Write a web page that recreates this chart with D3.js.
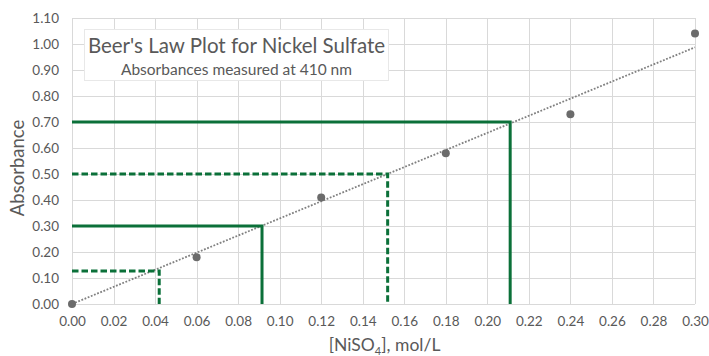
<!DOCTYPE html>
<html>
<head>
<meta charset="utf-8">
<script src="https://cdn.jsdelivr.net/npm/d3@7"></script>
<style>
  html, body { margin: 0; padding: 0; background: #fff; }
  svg { display: block; }
  text { font-family: Lato, "Liberation Sans", sans-serif; fill: #595959; }
</style>
</head>
<body>
<svg id="chart" width="709" height="356"></svg>
<script>
// ---- data ----
const concentrations = [0.00, 0.06, 0.12, 0.18, 0.24, 0.30];
const absorbances    = [0.00, 0.18, 0.41, 0.58, 0.73, 1.04];
const readAbs  = [0.127, 0.30, 0.50, 0.70];
const readConc = [0.042, 0.0915, 0.152, 0.211];
const readDashed = [true, false, true, false];
const xTicks = [0.00,0.02,0.04,0.06,0.08,0.10,0.12,0.14,0.16,0.18,0.20,0.22,0.24,0.26,0.28,0.30];
const yTicks = [0.00,0.10,0.20,0.30,0.40,0.50,0.60,0.70,0.80,0.90,1.00,1.10];
const titleText = "Beer's Law Plot for Nickel Sulfate";
const subtitleText = "Absorbances measured at 410 nm";
const yLabel = "Absorbance";

const svg = d3.select("#chart");
const x = d3.scaleLinear().domain([0, 0.30]).range([72, 695]);
const y = d3.scaleLinear().domain([0, 1.10]).range([304, 18]);

const green = "#0b7039";
const font = "Lato, 'Liberation Sans', sans-serif";

// gridlines
svg.append("g").selectAll("line").data(yTicks).join("line")
  .attr("x1", x(0)).attr("x2", x(0.30))
  .attr("y1", d => Math.round(y(d)) + 0.5).attr("y2", d => Math.round(y(d)) + 0.5)
  .attr("stroke", "#d9d9d9").attr("stroke-width", 1);
svg.append("g").selectAll("line").data(xTicks).join("line")
  .attr("x1", d => Math.round(x(d)) + 0.5).attr("x2", d => Math.round(x(d)) + 0.5)
  .attr("y1", y(1.10)).attr("y2", y(0))
  .attr("stroke", "#d9d9d9").attr("stroke-width", 1);

// axes tick labels via d3 axes
const yAxis = d3.axisLeft(y).tickValues(yTicks).tickFormat(d3.format(".2f")).tickSize(0).tickPadding(13);
const gy = svg.append("g").attr("transform", `translate(${x(0)},0)`).call(yAxis);
gy.select(".domain").remove();
gy.selectAll("text").style("font-size", "13.5px").style("fill", "#595959").style("font-family", font);

const xAxis = d3.axisBottom(x).tickValues(xTicks).tickFormat(d3.format(".2f")).tickSize(0).tickPadding(12);
const gx = svg.append("g").attr("transform", `translate(0,${y(0)})`).call(xAxis);
gx.select(".domain").remove();
gx.selectAll("text").style("font-size", "13.5px").style("fill", "#595959").style("font-family", font);

// title box
const box = svg.append("g");
box.append("rect").attr("x", 84.5).attr("y", 29.5).attr("width", 304).attr("height", 51)
  .attr("fill", "#fff").attr("stroke", "#e8e8e8").attr("stroke-width", 1);
box.append("text").attr("x", 236.5).attr("y", 52.5).attr("text-anchor", "middle")
  .style("font-size", "20.5px").text(titleText);
box.append("text").attr("x", 236.5).attr("y", 75).attr("text-anchor", "middle")
  .style("font-size", "15.5px").text(subtitleText);

// trendline (least squares through origin)
const sxy = d3.sum(concentrations, (c, i) => c * absorbances[i]);
const sxx = d3.sum(concentrations, c => c * c);
const slope = sxy / sxx;
const tl = [[0, 0], [0.30, 0.30 * slope]];
svg.append("path").datum(tl)
  .attr("d", d3.line().x(d => x(d[0])).y(d => y(d[1])))
  .attr("fill", "none").attr("stroke", "#808080").attr("stroke-width", 1.8)
  .attr("stroke-dasharray", "1.8,1.6");

// read-off lines
const reads = readAbs.map((a, i) => ({a, c: readConc[i], dashed: readDashed[i]}));
svg.append("g").selectAll("path").data(reads).join("path")
  .attr("d", d => d3.line()([[x(0), y(d.a)], [x(d.c), y(d.a)], [x(d.c), y(0)]]))
  .attr("fill", "none").attr("stroke", green).attr("stroke-width", 3)
  .attr("stroke-linejoin", "miter")
  .attr("stroke-dasharray", d => d.dashed ? "6.5,3" : null);

// data points
svg.append("g").selectAll("circle").data(concentrations).join("circle")
  .attr("cx", d => x(d)).attr("cy", (d, i) => y(absorbances[i]))
  .attr("r", 4).attr("fill", "#6b6b6b");

// axis titles
svg.append("text").attr("transform", `translate(24,168) rotate(-90)`)
  .attr("text-anchor", "middle").style("font-size", "18.5px").text(yLabel);

const xt = svg.append("text").attr("x", 384.5).attr("y", 351)
  .attr("text-anchor", "middle").style("font-size", "17.5px");
xt.append("tspan").text("[NiSO");
xt.append("tspan").attr("dy", 4).style("font-size", "11px").text("4");
xt.append("tspan").attr("dy", -4).text("], mol/L");
</script>
</body>
</html>
